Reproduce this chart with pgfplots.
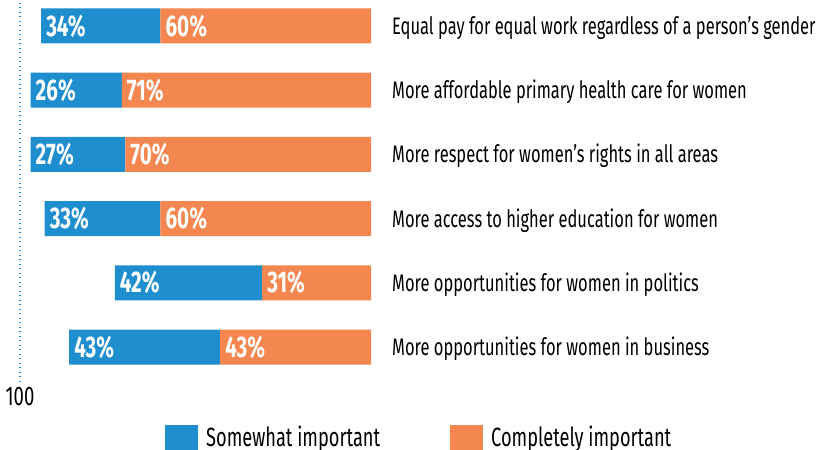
\documentclass[border=0pt]{standalone}
\usepackage{fontspec}
\setmainfont{Fira Sans}[FakeStretch=0.69]
\usepackage{pgfplots}
\pgfplotsset{compat=1.18}

\definecolor{somewhat}{RGB}{30,142,206}
\definecolor{completely}{RGB}{244,134,79}

\pgfplotsset{
  sqlegend/.style={legend image code/.code={%
      \fill[##1, draw=none] (0bp,-21bp) rectangle (33bp,12bp);}},
  segbar/.style={xbar, bar shift=0pt, draw=none, sqlegend},
}

\begin{document}
\begin{tikzpicture}
\useasboundingbox (0,0) rectangle (823bp,450bp);
\clip (0,0) rectangle (823bp,450bp);
\begin{axis}[%
  at={(20bp,68bp)}, anchor=south west,
  scale only axis, width=351bp, height=382bp,
  stack plots=x, bar width=35bp,
  % x-axis, 100 on the left
  x dir=reverse,
  xmin=0, xmax=100,
  xtick={100}, xticklabels={100},
  xticklabel style={font=\fontsize{27}{30}\selectfont, inner sep=0pt, anchor=north, yshift=-5bp},
  xmajorgrids=true,
  grid style={somewhat, line width=1.2bp, dash pattern=on 1.2bp off 3.3bp},
  % y-axis, labels on the right
  ymin=-0.545, ymax=5.405,
  ytick={0,1,2,3,4,5},
  yticklabels={
    More opportunities for women in business,
    More opportunities for women in politics,
    More access to higher education for women,
    More respect for women’s rights in all areas,
    More affordable primary health care for women,
    Equal pay for equal work regardless of a person’s gender},
  yticklabel pos=right,
  yticklabel style={font=\fontsize{24}{28}\selectfont, anchor=base west, inner sep=0pt, xshift=21bp, yshift=-8.5bp},
  axis line style={draw=none},
  major tick length=0pt,
  % legend
  legend columns=2,
  reverse legend,
  legend style={at={(0.4131,-0.112)}, anchor=north west, draw=none, fill=none,
    inner sep=0pt, font=\fontsize{26.5}{30}\selectfont,
    nodes={inner sep=0pt},
    /tikz/every odd column/.append style={column sep=8bp},
    /tikz/every even column/.append style={column sep=70bp}},
  ]

  % completely important (next to 0, on the right)
  \addplot [segbar, fill=completely] coordinates {
    (43,0) (31,1) (60,2) (70,3) (71,4) (60,5)
  };
  \addlegendentry{Completely important}

  % somewhat important
  \addplot [segbar, fill=somewhat] coordinates {
    (43,0) (42,1) (33,2) (27,3) (26,4) (34,5)
  };
  \addlegendentry{Somewhat important}

  % value labels at the left end of each segment
  \addplot [stack plots=false, only marks, mark=none, forget plot,
    point meta=explicit symbolic,
    nodes near coords,
    every node near coord/.append style={anchor=west, inner sep=0pt, xshift=5bp,
      text=white, font=\fontsize{30}{32}\selectfont\bfseries}]
    coordinates {
    (86,0) [43\%] (43,0) [43\%]
    (73,1) [42\%] (31,1) [31\%]
    (93,2) [33\%] (60,2) [60\%]
    (97,3) [27\%] (70,3) [70\%]
    (97,4) [26\%] (71,4) [71\%]
    (94,5) [34\%] (60,5) [60\%]
  };
\end{axis}
\end{tikzpicture}
\end{document}
